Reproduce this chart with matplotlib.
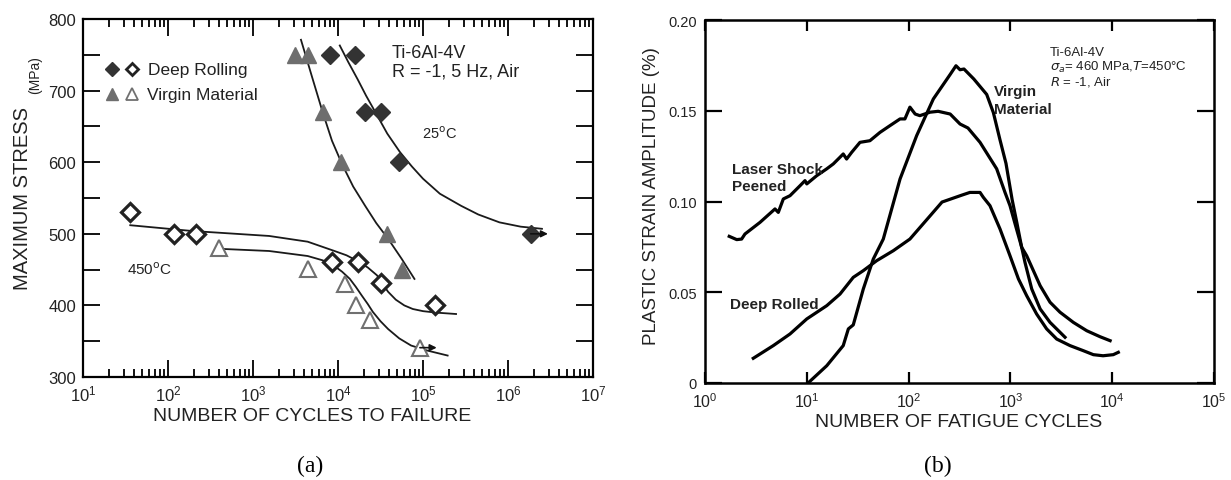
import numpy as np
import matplotlib
matplotlib.use("Agg")
import matplotlib.pyplot as plt
from matplotlib.ticker import LogLocator, FuncFormatter, MultipleLocator, NullFormatter, NullLocator

plt.rcParams["font.family"] = ["Liberation Sans", "DejaVu Sans"]

# (a) S-N data, Ti-6Al-4V
dr_filled_n = [8000, 16000, 21000, 32000, 52000, 1.85e6]
dr_filled_s = [750, 750, 670, 670, 600, 500]
vm_filled_n = [3100, 4400, 6600, 11000, 38000, 57000]
vm_filled_s = [750, 750, 670, 600, 500, 450]
dr_open_n = [36, 118, 212, 8500, 17000, 32000, 140000]
dr_open_s = [530, 500, 500, 461, 461, 431, 401]
vm_open_n = [400, 4500, 12000, 16500, 24000, 92000]
vm_open_s = [480, 451, 430, 400, 379, 341]

# fitted trend lines
fit_vm25_n = [3670, 4900, 6600, 8500, 11200, 15100, 20900, 28200, 38900, 56200, 79400]
fit_vm25_s = [771, 721, 670, 630, 597, 566, 539, 515, 493, 465, 437]
fit_dr25_n = [10500, 13200, 17000, 21400, 27500, 38000, 53700, 74100, 100000, 158000,
              282000, 447000, 794000, 1410000, 2510000]
fit_dr25_s = [763, 740, 716, 693, 670, 640, 614, 594, 577, 556, 539, 527, 516, 510, 507]
fit_dr450_n = [36, 190, 1550, 4400, 9100, 12600, 17000, 22400, 28800, 33100, 38900,
               47900, 60300, 75900, 100000, 141000, 245000]
fit_dr450_s = [512, 504, 497, 489, 476, 470, 462, 453, 442, 431, 419, 408, 400, 395,
               392, 390, 388]
fit_vm450_n = [417, 1550, 4400, 6600, 9100, 11200, 13800, 16200, 19000, 22400, 25700,
               31600, 38900, 52500, 72400, 112000, 195000]
fit_vm450_s = [479, 476, 469, 463, 455, 447, 437, 426, 414, 402, 391, 378, 367, 354,
               344, 337, 330]

# (b) plastic strain amplitude vs cycles, 460 MPa, 450 C
virgin_n = [10.3, 15.7, 22.8, 25.6, 28.6, 35.9, 45, 56.4, 82.4, 120, 175, 256, 292, 320,
            350, 437, 585, 680, 790, 905, 1040, 1160, 1290, 1390, 1620, 1960, 2450, 3440]
virgin_eps = [0, 0.0095, 0.0206, 0.0298, 0.032, 0.0518, 0.0683, 0.0793, 0.1124, 0.1363,
              0.1565, 0.170, 0.1748, 0.1726, 0.173, 0.1675, 0.159, 0.149, 0.134, 0.121,
              0.101, 0.088, 0.0748, 0.0665, 0.0518, 0.0408, 0.0334, 0.0252]
lsp_n = [1.73, 2.05, 2.29, 2.47, 3.47, 4.87, 5.25, 5.88, 6.84, 8.58, 9.6, 10, 12.5, 15.7,
         18.2, 21.2, 22.8, 24.6, 27.6, 33.3, 41.7, 52.4, 65.6, 82.4, 92, 103, 116, 129,
         162, 195, 256, 320, 383, 503, 733, 885, 991, 1120, 1290, 1445, 1960, 2450, 3070,
         4150, 5620, 7590, 9540]
lsp_eps = [0.0808, 0.079, 0.0793, 0.0821, 0.0885, 0.0959, 0.094, 0.1014, 0.1032, 0.1087,
           0.1115, 0.1097, 0.1142, 0.118, 0.1207, 0.1244, 0.1262, 0.1234, 0.1271, 0.1326,
           0.1335, 0.1381, 0.1418, 0.1455, 0.1455, 0.152, 0.1482, 0.1473, 0.1492, 0.1497,
           0.1482, 0.1427, 0.1405, 0.1326, 0.118, 0.105, 0.0977, 0.087, 0.0748, 0.0701,
           0.0536, 0.0445, 0.039, 0.0334, 0.0288, 0.0255, 0.0233]
dr_n = [2.98, 4.69, 6.84, 10, 15.7, 21.2, 28.6, 35.9, 48.6, 70.8, 103, 162, 213, 333, 400,
        503, 542, 630, 790, 991, 1200, 1445, 1810, 2270, 2850, 3850, 5200, 6530, 8130,
        10240, 11480]
dr_eps = [0.0136, 0.0206, 0.027, 0.0353, 0.0426, 0.049, 0.0582, 0.0619, 0.0674, 0.0729,
          0.0793, 0.092, 0.0997, 0.1035, 0.105, 0.105, 0.1023, 0.0977, 0.0849, 0.0701,
          0.0573, 0.0481, 0.038, 0.0298, 0.0242, 0.0206, 0.0178, 0.0156, 0.015, 0.0156,
          0.0169]

TXT = "#222222"
pow10 = FuncFormatter(lambda v, p: r"$\mathregular{10^{%d}}$" % round(np.log10(v)))

fig = plt.figure(figsize=(12.31, 4.81), dpi=100)
ax1 = fig.add_axes([0.0674, 0.2141, 0.4143, 0.7443])
ax2 = fig.add_axes([0.5727, 0.2017, 0.4135, 0.7546])

# ---- panel (a)
ax1.set_xscale("log")
for n, s in [(fit_vm25_n, fit_vm25_s), (fit_dr25_n, fit_dr25_s),
             (fit_dr450_n, fit_dr450_s), (fit_vm450_n, fit_vm450_s)]:
    ax1.plot(n, s, color="#1a1a1a", lw=1.3, zorder=2)

ax1.plot(vm_filled_n, vm_filled_s, ls="none", marker="^", ms=11, color="#6e6e6e", zorder=3)
ax1.plot(dr_filled_n, dr_filled_s, ls="none", marker="D", ms=9.5, color="#333333", zorder=3)
ax1.plot(vm_open_n, vm_open_s, ls="none", marker="^", ms=11, mfc="white",
         mec="#707070", mew=1.5, zorder=3)
ax1.plot(dr_open_n, dr_open_s, ls="none", marker="D", ms=9, mfc="white",
         mec="#222222", mew=2.3, zorder=3)

arrow = dict(arrowstyle="-|>", color="#111111", lw=1.2, mutation_scale=10, shrinkA=0, shrinkB=0)
ax1.annotate("", xy=(2.95e6, 500), xytext=(1.85e6, 500), arrowprops=arrow)
ax1.annotate("", xy=(1.45e5, 341), xytext=(9.2e4, 341), arrowprops=arrow)

# legend drawn by hand like the original
ax1.plot([0.056], [0.860], transform=ax1.transAxes, marker="D", ms=7, color="#333333", ls="none")
ax1.plot([0.097], [0.860], transform=ax1.transAxes, marker="D", ms=6.5, mfc="white",
         mec="#222222", mew=2, ls="none")
ax1.plot([0.056], [0.790], transform=ax1.transAxes, marker="^", ms=8.5, color="#6e6e6e", ls="none")
ax1.plot([0.097], [0.790], transform=ax1.transAxes, marker="^", ms=8.5, mfc="white",
         mec="#707070", mew=1.3, ls="none")
ax1.text(0.128, 0.860, "Deep Rolling", transform=ax1.transAxes, fontsize=12.5, color=TXT, va="center")
ax1.text(0.125, 0.790, "Virgin Material", transform=ax1.transAxes, fontsize=12.5, color=TXT, va="center")

ax1.text(0.605, 0.907, "Ti-6Al-4V", transform=ax1.transAxes, fontsize=13, color=TXT, va="center")
ax1.text(0.605, 0.856, "R = -1, 5 Hz, Air", transform=ax1.transAxes, fontsize=13, color=TXT, va="center")
ax1.text(0.664, 0.683, r"25$^{\rm o}$C", transform=ax1.transAxes, fontsize=10.5, color=TXT, va="center")
ax1.text(0.086, 0.302, r"450$^{\rm o}$C", transform=ax1.transAxes, fontsize=11, color=TXT, va="center")

# only the decades inside the view, so no hidden labels fall outside the figure
ax1.set_xticks(10.0 ** np.arange(1, 8))
ax1.xaxis.set_minor_locator(LogLocator(base=10, subs=range(2, 10), numticks=20))
ax1.xaxis.set_major_formatter(pow10)
ax1.xaxis.set_minor_formatter(NullFormatter())
ax1.yaxis.set_major_locator(MultipleLocator(100))
ax1.yaxis.set_minor_locator(MultipleLocator(50))
ax1.set_xlim(10, 1e7)
ax1.set_ylim(300, 800)
ax1.tick_params(which="both", direction="in", top=True, right=True, width=1.3,
                labelsize=12, labelcolor=TXT)
ax1.tick_params(axis="y", which="both", length=12, pad=5)
ax1.tick_params(axis="x", which="major", length=12, pad=5)
ax1.tick_params(axis="x", which="minor", length=6)
for sp in ax1.spines.values():
    sp.set_linewidth(1.6)

fig.text(0.0185, 0.588, "MAXIMUM STRESS", rotation=90, ha="center", va="center",
         fontsize=14.5, color=TXT)
fig.text(0.0285, 0.844, "(MPa)", rotation=90, ha="center", va="center", fontsize=10, color=TXT)
fig.text(0.2535, 0.135, "NUMBER OF CYCLES TO FAILURE", ha="center", va="center",
         fontsize=14, color=TXT)
fig.text(0.252, 0.031, "(a)", ha="center", va="center", fontsize=17,
         family="Liberation Serif", color="black")

# ---- panel (b)
ax2.set_xscale("log")
ax2.plot(virgin_n, virgin_eps, color="black", lw=2.3)
ax2.plot(lsp_n, lsp_eps, color="black", lw=2.3)
ax2.plot(dr_n, dr_eps, color="black", lw=2.3)

ax2.text(0.678, 0.912, "Ti-6Al-4V", transform=ax2.transAxes, fontsize=9.5, color=TXT, va="center")
ax2.text(0.678, 0.872, r"$\sigma_a$= 460 MPa,$\it{T}$=450°C", transform=ax2.transAxes,
         fontsize=9.5, color=TXT, va="center")
ax2.text(0.678, 0.832, r"$\it{R}$ = -1, Air", transform=ax2.transAxes, fontsize=9.5,
         color=TXT, va="center")
ax2.text(0.568, 0.804, "Virgin", transform=ax2.transAxes, fontsize=11, weight="bold",
         color=TXT, va="center")
ax2.text(0.568, 0.755, "Material", transform=ax2.transAxes, fontsize=11, weight="bold",
         color=TXT, va="center")
ax2.text(0.053, 0.590, "Laser Shock", transform=ax2.transAxes, fontsize=11, weight="bold",
         color=TXT, va="center")
ax2.text(0.053, 0.543, "Peened", transform=ax2.transAxes, fontsize=11, weight="bold",
         color=TXT, va="center")
ax2.text(0.049, 0.218, "Deep Rolled", transform=ax2.transAxes, fontsize=11, weight="bold",
         color=TXT, va="center")

ax2.set_xticks(10.0 ** np.arange(0, 6))
ax2.xaxis.set_minor_locator(NullLocator())
ax2.xaxis.set_major_formatter(pow10)
ax2.set_yticks([0, 0.05, 0.10, 0.15, 0.20])
ax2.yaxis.set_major_formatter(FuncFormatter(lambda v, p: "0" if abs(v) < 1e-9 else "%.2f" % v))
ax2.set_xlim(1, 1e5)
ax2.set_ylim(0, 0.2)
ax2.tick_params(direction="in", top=True, right=True, width=1.6, labelcolor=TXT)
ax2.tick_params(axis="y", length=12, pad=6, labelsize=10.5)
ax2.tick_params(axis="x", length=8, pad=6, labelsize=11.5)
for sp in ax2.spines.values():
    sp.set_linewidth(1.8)

fig.text(0.529, 0.5925, "PLASTIC STRAIN AMPLITUDE (%)", rotation=90, ha="center",
         va="center", fontsize=13.5, color=TXT)
fig.text(0.779, 0.1206, "NUMBER OF FATIGUE CYCLES", ha="center", va="center",
         fontsize=14, color=TXT)
fig.text(0.762, 0.031, "(b)", ha="center", va="center", fontsize=17,
         family="Liberation Serif", color="black")

fig.savefig("out.png", dpi=100)
